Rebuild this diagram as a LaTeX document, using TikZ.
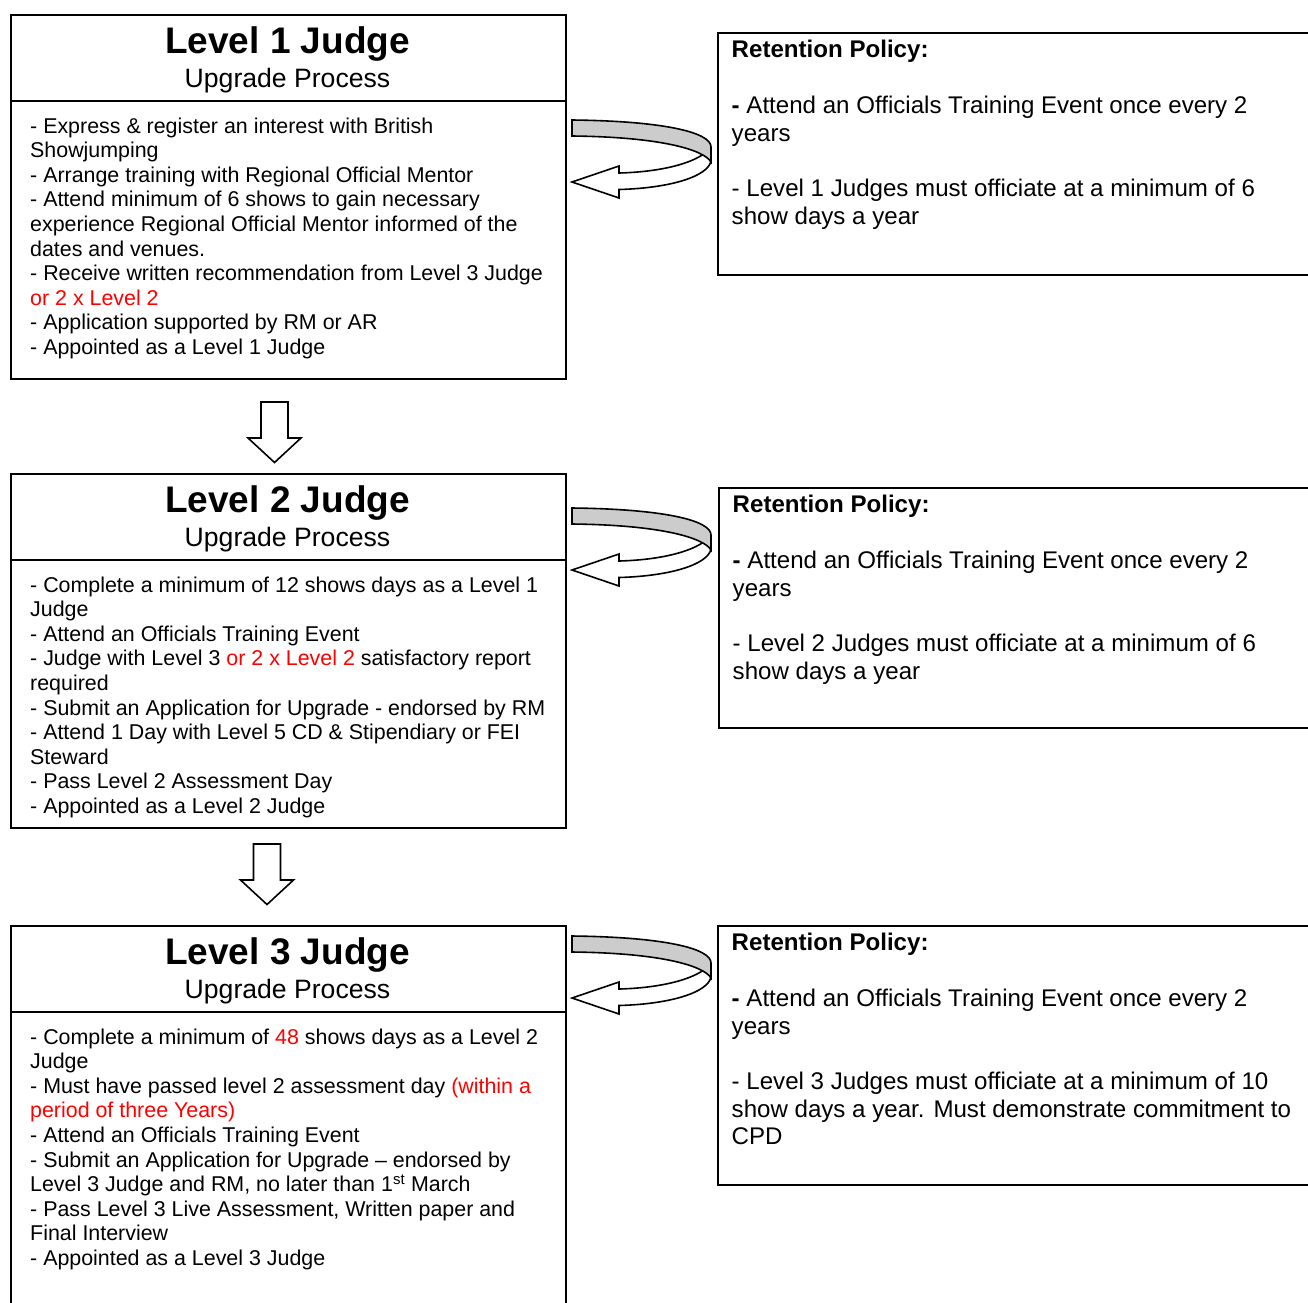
\documentclass[tikz,border=0pt]{standalone}
\usepackage{fontspec}
\setmainfont{Liberation Sans}
\usetikzlibrary{calc}
\definecolor{wred}{RGB}{255,0,0}
\definecolor{ribbon}{RGB}{204,204,204}
\tikzset{
  panel/.style={draw=black, line width=2pt, anchor=north west, inner sep=0pt},
  body/.style={anchor=base west, inner sep=0pt, font=\fontsize{21.4}{24.4}\selectfont},
  rbody/.style={anchor=base west, inner sep=0pt, font=\fontsize{24.1}{27.6}\selectfont},
  rhead/.style={anchor=base west, inner sep=0pt, font=\fontsize{24.1}{27.6}\selectfont\bfseries},
  ttl/.style={anchor=base, inner sep=0pt, font=\fontsize{37}{40}\selectfont\bfseries},
  subttl/.style={anchor=base, inner sep=0pt, font=\fontsize{26.6}{30}\selectfont},
  outline/.style={draw=black, line width=1.6pt, line join=miter},
  uturn/.pic={
    \draw[outline, fill=white] (139,41) .. controls (136,56) and (100,68) .. (47,69.5)
      -- (47,78) -- (0,62) -- (47,46) -- (47,53)
      .. controls (85,52) and (115,45) .. (130.5,34.8) -- (136,30) -- cycle;
    \draw[outline, fill=ribbon] (0,0) .. controls (90,1) and (139,12) .. (139,27)
      -- (139,42) .. controls (132,30) and (90,17) .. (0,16) -- cycle;
  },
  downarrow/.pic={
    \draw[outline, fill=white] (-13.5,0) -- (13.5,0) -- (13.5,36) -- (26.5,36)
      -- (0,60.5) -- (-26.5,36) -- (-13.5,36) -- cycle;
  }
}
\newcommand\leftbox[4]{% name, top, height, title
  \node[panel, minimum width=555pt, minimum height=#3pt] (#1) at (10,#2) {};
  \draw[line width=2pt] ($(#1.north west)+(0,86.7)$) -- ($(#1.north east)+(0,86.7)$);
  \node[ttl] (#1-title) at (287.5,{#2+39.3}) {#4};
  \node[subttl] (#1-sub) at (287.5,{#2+73.8}) {Upgrade Process};
}
\newcommand\leftlines[3]{% prefix, top, list
  \foreach \txt [count=\i] in {#3} {
    \node[body] (#1-\i) at (30,{#2+119.2+24.57*(\i-1)}) {\txt};
  }
}
\newcommand\retbox[5]{% name, left, top, height, level-specific lines (list)
  \node[panel, minimum width=640pt, minimum height=#4pt] (#1) at (#2,#3) {};
  \node[rhead] (#1-h) at ({#2+14.5},{#3+25.3}) {Retention Policy:};
  \node[rbody] (#1-1) at ({#2+14.5},{#3+81.3}) {\textbf{-} Attend an Officials Training Event once every 2};
  \node[rbody] (#1-2) at ({#2+14.5},{#3+109}) {years};
  \foreach \txt [count=\i] in {#5} {
    \node[rbody] (#1-l\i) at ({#2+14.5},{#3+164.5+27.6*(\i-1)}) {\txt};
  }
}
\begin{document}
\begin{tikzpicture}[x=1pt,y=-1pt]
\useasboundingbox (0,0) rectangle (1308,1302);
\clip (0,0) rectangle (1308,1302);

% ---------- Level 1 ----------
\leftbox{A}{14}{364}{Level 1 Judge}
\leftlines{a}{14}{{- Express \& register an interest with British},{Showjumping},{- Arrange training with Regional Official Mentor},{- Attend minimum of 6 shows to gain necessary},{experience Regional Official Mentor informed of the},{dates and venues.},{- Receive written recommendation from Level 3 Judge},{\textcolor{wred}{or 2 x Level 2}},{- Application supported by RM or AR},{- Appointed as a Level 1 Judge}}

% ---------- Level 2 ----------
\leftbox{B}{473}{354}{Level 2 Judge}
\leftlines{b}{473}{{- Complete a minimum of 12 shows days as a Level 1},{Judge},{- Attend an Officials Training Event},{- Judge with Level 3 \textcolor{wred}{or 2 x Level 2} satisfactory report},{required},{- Submit an Application for Upgrade - endorsed by RM},{- Attend 1 Day with Level 5 CD \& Stipendiary or FEI},{Steward},{- Pass Level 2 Assessment Day},{- Appointed as a Level 2 Judge}}

% ---------- Level 3 ----------
\leftbox{C}{925}{420}{Level 3 Judge}
\leftlines{c}{925}{{- Complete a minimum of \textcolor{wred}{48} shows days as a Level 2},{Judge},{- Must have passed level 2 assessment day \textcolor{wred}{(within a}},{\textcolor{wred}{period of three Years)}},{- Attend an Officials Training Event},{- Submit an Application for Upgrade – endorsed by},{Level 3 Judge and RM, no later than 1\textsuperscript{st} March},{- Pass Level 3 Live Assessment, Written paper and},{Final Interview},{- Appointed as a Level 3 Judge}}

% ---------- Retention boxes ----------
\retbox{R1}{717}{32}{242}{{- Level 1 Judges must officiate at a minimum of 6},{show days a year}}
\retbox{R2}{718}{487}{240}{{- Level 2 Judges must officiate at a minimum of 6},{show days a year}}
\retbox{R3}{717}{925}{259}{{- Level 3 Judges must officiate at a minimum of 10},{show days a year. Must demonstrate commitment to},{CPD}}

% ---------- U-turn arrows ----------
\pic at (572,120) {uturn};
\pic at (572,508) {uturn};
\pic at (572,936) {uturn};

% ---------- down arrows ----------
\pic at (274.5,402) {downarrow};
\pic at (267,844) {downarrow};
\end{tikzpicture}
\end{document}
